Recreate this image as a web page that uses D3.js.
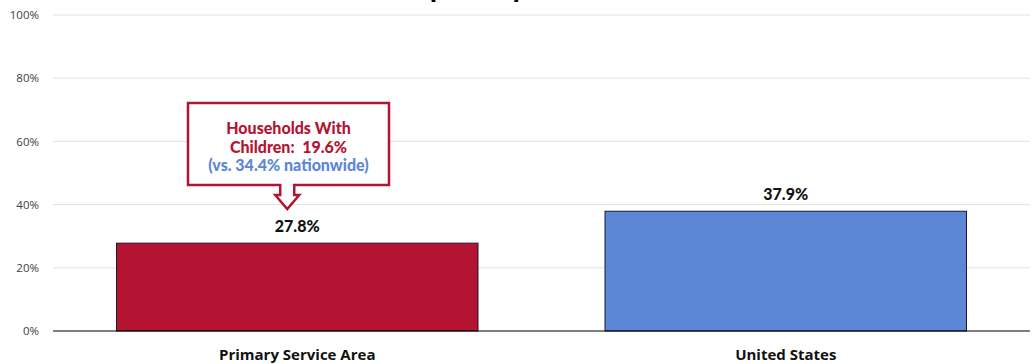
<!DOCTYPE html>
<html lang="en">
  <head>
    <meta charset="utf-8">
    <title>Married Couple Households</title>
    <style>
      body { margin: 0; background: #fff; }
      svg { display: block; }
    </style>
  </head>
  <body>
    <svg class="chart"></svg>
    <script src="https://cdn.jsdelivr.net/npm/d3@7/dist/d3.min.js"></script>
    <script>
      const categories = ["Primary Service Area", "United States"];
      const values = [27.8, 37.9];
      const barColors = ["#b41432", "#5b87d6"];
      const tickValues = [0, 20, 40, 60, 80, 100];
      const calloutLines = ["Households With", "Children:  19.6%", "(vs. 34.4% nationwide)"];

      const W = 1035, H = 364;
      const svg = d3.select(".chart").attr("width", W).attr("height", H);

      const x = d3.scaleBand().domain(categories).range([53, 1030]).paddingInner(0.26).paddingOuter(0.13);
      const y = d3.scaleLinear().domain([0, 100]).range([331, 15]);

      // title sits mostly above the frame, as in the source image
      svg.append("text")
        .attr("x", 525).attr("y", -3)
        .attr("text-anchor", "middle")
        .style("font-family", "Lato, 'Open Sans', sans-serif")
        .style("font-weight", "bold").style("font-size", "30px")
        .text("Married Couple Population Households");

      // gridlines
      svg.append("g").selectAll("line")
        .data(tickValues.filter(d => d > 0)).enter().append("line")
        .attr("x1", 53).attr("x2", 1030)
        .attr("y1", d => y(d)).attr("y2", d => y(d))
        .style("stroke", "#e2e2e2").style("stroke-width", 1);

      // y axis labels
      const yAxis = d3.axisLeft(y).tickValues(tickValues).tickFormat(d => d + "%").tickSize(0).tickPadding(14);
      const ga = svg.append("g").attr("transform", "translate(53,0)").call(yAxis);
      ga.select(".domain").remove();
      ga.selectAll("text")
        .style("font-family", "'Open Sans', sans-serif")
        .style("font-size", "11.5px").style("fill", "#404040");

      // bars
      svg.append("g").selectAll("rect")
        .data(values).enter().append("rect")
        .attr("x", (d, i) => x(categories[i]))
        .attr("y", d => y(d))
        .attr("width", x.bandwidth())
        .attr("height", d => y(0) - y(d))
        .style("fill", (d, i) => barColors[i])
        .style("stroke", "#1a1a2a").style("stroke-width", 1);

      // baseline
      svg.append("line")
        .attr("x1", 53).attr("x2", 1030).attr("y1", y(0)).attr("y2", y(0))
        .style("stroke", "#000").style("stroke-width", 1.2);

      // value labels
      svg.append("g").selectAll("text")
        .data(values).enter().append("text")
        .attr("x", (d, i) => x(categories[i]) + x.bandwidth() / 2)
        .attr("y", d => y(d) - 11)
        .attr("text-anchor", "middle")
        .style("font-family", "Lato, 'Open Sans', sans-serif")
        .style("font-weight", "900").style("font-size", "16px").style("fill", "#111")
        .text(d => d.toFixed(1) + "%");

      // category labels
      svg.append("g").selectAll("text")
        .data(categories).enter().append("text")
        .attr("x", d => x(d) + x.bandwidth() / 2)
        .attr("y", 360)
        .attr("text-anchor", "middle")
        .style("font-family", "'Open Sans', sans-serif")
        .style("font-weight", "bold").style("font-size", "15px").style("fill", "#111")
        .text(d => d);

      // callout box with down arrow
      const cx = x(categories[0]) + x.bandwidth() / 2 - 10;
      const bx0 = 188, bx1 = 389, by0 = 103, by1 = 185;
      const tipY = y(values[0]) - 34;
      const callout = d3.path();
      callout.moveTo(bx0, by0);
      callout.lineTo(bx1, by0);
      callout.lineTo(bx1, by1);
      callout.lineTo(cx + 7, by1);
      callout.lineTo(cx + 7, by1 + 10);
      callout.lineTo(cx + 12, by1 + 10);
      callout.lineTo(cx, tipY);
      callout.lineTo(cx - 12, by1 + 10);
      callout.lineTo(cx - 7, by1 + 10);
      callout.lineTo(cx - 7, by1);
      callout.lineTo(bx0, by1);
      callout.closePath();
      svg.append("path").attr("d", callout.toString())
        .style("fill", "#fff").style("stroke", "#b41432").style("stroke-width", 2.5);

      svg.append("g").selectAll("text")
        .data(calloutLines).enter().append("text")
        .attr("x", (bx0 + bx1) / 2)
        .attr("y", (d, i) => 134 + i * 18.5)
        .attr("text-anchor", "middle")
        .style("white-space", "pre")
        .style("font-family", "Lato, 'Open Sans', sans-serif")
        .style("font-weight", "900").style("font-size", "16px")
        .style("fill", (d, i) => i < 2 ? "#b41432" : "#5b87d6")
        .text(d => d);
    </script>
  </body>
</html>
